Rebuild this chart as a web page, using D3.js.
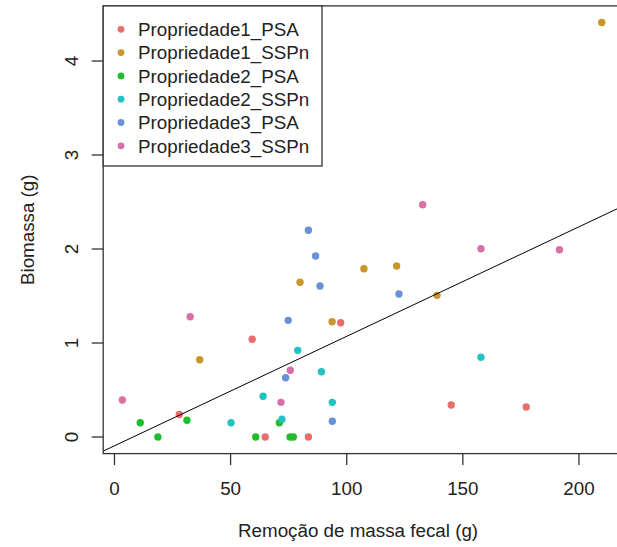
<!DOCTYPE html>
<html>
<head>
<meta charset="utf-8">
<script src="https://cdn.jsdelivr.net/npm/d3@7"></script>
<style>
  body { margin: 0; background: #fff; }
  text { font-family: "Liberation Sans", Arial, sans-serif; fill: #222; }
</style>
</head>
<body>
<div id="chart"></div>
<script>
const groups = ["Propriedade1_PSA", "Propriedade1_SSPn", "Propriedade2_PSA",
                "Propriedade2_SSPn", "Propriedade3_PSA", "Propriedade3_SSPn"];
const groupColors = ["#e86e6c", "#c8962a", "#1fbc2e", "#22c2c2", "#6a91d8", "#da6fa6"];

// removal of faecal mass (g) and biomass (g), per group
const remocao = [
  [97.4, 59.3, 27.9, 64.9, 83.5, 145.0, 177.3],
  [209.8, 79.9, 93.7, 36.7, 107.4, 121.5, 138.9],
  [11.1, 31.2, 71.0, 18.7, 60.8, 75.6, 77.0],
  [78.9, 89.1, 64.0, 93.8, 50.2, 72.1, 157.8],
  [83.5, 86.6, 88.5, 74.8, 73.7, 93.8, 122.5],
  [32.6, 75.7, 3.4, 71.7, 132.7, 157.8, 191.6]
];
const biomassa = [
  [1.216, 1.04, 0.24, 0, 0, 0.34, 0.32],
  [4.41, 1.646, 1.227, 0.822, 1.79, 1.82, 1.507],
  [0.152, 0.178, 0.152, 0, 0, 0, 0],
  [0.922, 0.695, 0.433, 0.369, 0.152, 0.19, 0.848],
  [2.20, 1.926, 1.606, 1.241, 0.631, 0.167, 1.521],
  [1.28, 0.71, 0.394, 0.369, 2.471, 2.003, 1.993]
];
const xTicks = [0, 50, 100, 150, 200];
const yTicks = [0, 1, 2, 3, 4];

const width = 617, height = 547;
const fontSize = 18.8;

// flatten into points
const points = [];
groups.forEach((g, i) => {
  remocao[i].forEach((v, j) => points.push({ group: g, gi: i, x: v, y: biomassa[i][j] }));
});

// R-style 4% padding on data range
function padded(ext) {
  const d = (ext[1] - ext[0]) * 0.04;
  return [ext[0] - d, ext[1] + d];
}
const xDom = padded(d3.extent(points, d => d.x));
const yDom = padded(d3.extent(points, d => d.y));

// plot region (pixel box)
const pL = 103.2, pR = 620.9, pT = 5.9, pB = 453.6;

const x = d3.scaleLinear().domain(xDom).range([pL, pR]);
const y = d3.scaleLinear().domain(yDom).range([pB, pT]);

// simple least squares fit, like abline(lm(y ~ x))
const mx = d3.mean(points, d => d.x), my = d3.mean(points, d => d.y);
const slope = d3.sum(points, d => (d.x - mx) * (d.y - my)) / d3.sum(points, d => (d.x - mx) ** 2);
const intercept = my - slope * mx;

const svg = d3.select("#chart").append("svg")
  .attr("width", width)
  .attr("height", height);

svg.append("defs").append("clipPath").attr("id", "plotclip")
  .append("rect")
  .attr("x", pL).attr("y", pT)
  .attr("width", pR - pL).attr("height", pB - pT);

// points
svg.append("g")
  .selectAll("circle")
  .data(points)
  .join("circle")
  .attr("cx", d => x(d.x))
  .attr("cy", d => y(d.y))
  .attr("r", 3.7)
  .attr("fill", d => groupColors[d.gi]);

// regression line
svg.append("line")
  .attr("clip-path", "url(#plotclip)")
  .attr("x1", x(xDom[0])).attr("y1", y(intercept + slope * xDom[0]))
  .attr("x2", x(xDom[1])).attr("y2", y(intercept + slope * xDom[1]))
  .attr("stroke", "#000")
  .attr("stroke-width", 1);

// frame
svg.append("rect")
  .attr("x", pL).attr("y", pT)
  .attr("width", pR - pL).attr("height", pB - pT)
  .attr("fill", "none")
  .attr("stroke", "#333")
  .attr("stroke-width", 1.3);

// x axis
const xAxis = svg.append("g");
xAxis.selectAll("line")
  .data(xTicks)
  .join("line")
  .attr("x1", d => x(d)).attr("x2", d => x(d))
  .attr("y1", pB).attr("y2", pB + 11.5)
  .attr("stroke", "#333").attr("stroke-width", 1.3);
xAxis.selectAll("text")
  .data(xTicks)
  .join("text")
  .attr("x", d => x(d))
  .attr("y", 495)
  .attr("text-anchor", "middle")
  .attr("font-size", fontSize)
  .text(d => d);

// y axis
const yAxis = svg.append("g");
yAxis.selectAll("line")
  .data(yTicks)
  .join("line")
  .attr("x1", pL - 11.5).attr("x2", pL)
  .attr("y1", d => y(d)).attr("y2", d => y(d))
  .attr("stroke", "#333").attr("stroke-width", 1.3);
yAxis.selectAll("text")
  .data(yTicks)
  .join("text")
  .attr("transform", d => `translate(77.5,${y(d)}) rotate(-90)`)
  .attr("text-anchor", "middle")
  .attr("font-size", fontSize)
  .text(d => d);

// axis titles
svg.append("text")
  .attr("x", (pL + pR) / 2 - 4)
  .attr("y", 537)
  .attr("text-anchor", "middle")
  .attr("font-size", fontSize)
  .text("Remoção de massa fecal (g)");

svg.append("text")
  .attr("transform", `translate(33.5,${(pT + pB) / 2}) rotate(-90)`)
  .attr("text-anchor", "middle")
  .attr("font-size", fontSize)
  .text("Biomassa (g)");

// legend
const legend = svg.append("g");
legend.append("rect")
  .attr("x", pL).attr("y", pT)
  .attr("width", 322 - pL).attr("height", 166 - pT)
  .attr("fill", "#fff")
  .attr("stroke", "#333")
  .attr("stroke-width", 1.3);

const rowY = i => 29.3 + i * 23.3;
legend.selectAll("circle")
  .data(groups)
  .join("circle")
  .attr("cx", 121)
  .attr("cy", (d, i) => rowY(i))
  .attr("r", 3.4)
  .attr("fill", (d, i) => groupColors[i]);
legend.selectAll("text")
  .data(groups)
  .join("text")
  .attr("x", 138)
  .attr("y", (d, i) => rowY(i) + 6.8)
  .attr("font-size", fontSize)
  .text(d => d);
</script>
</body>
</html>
